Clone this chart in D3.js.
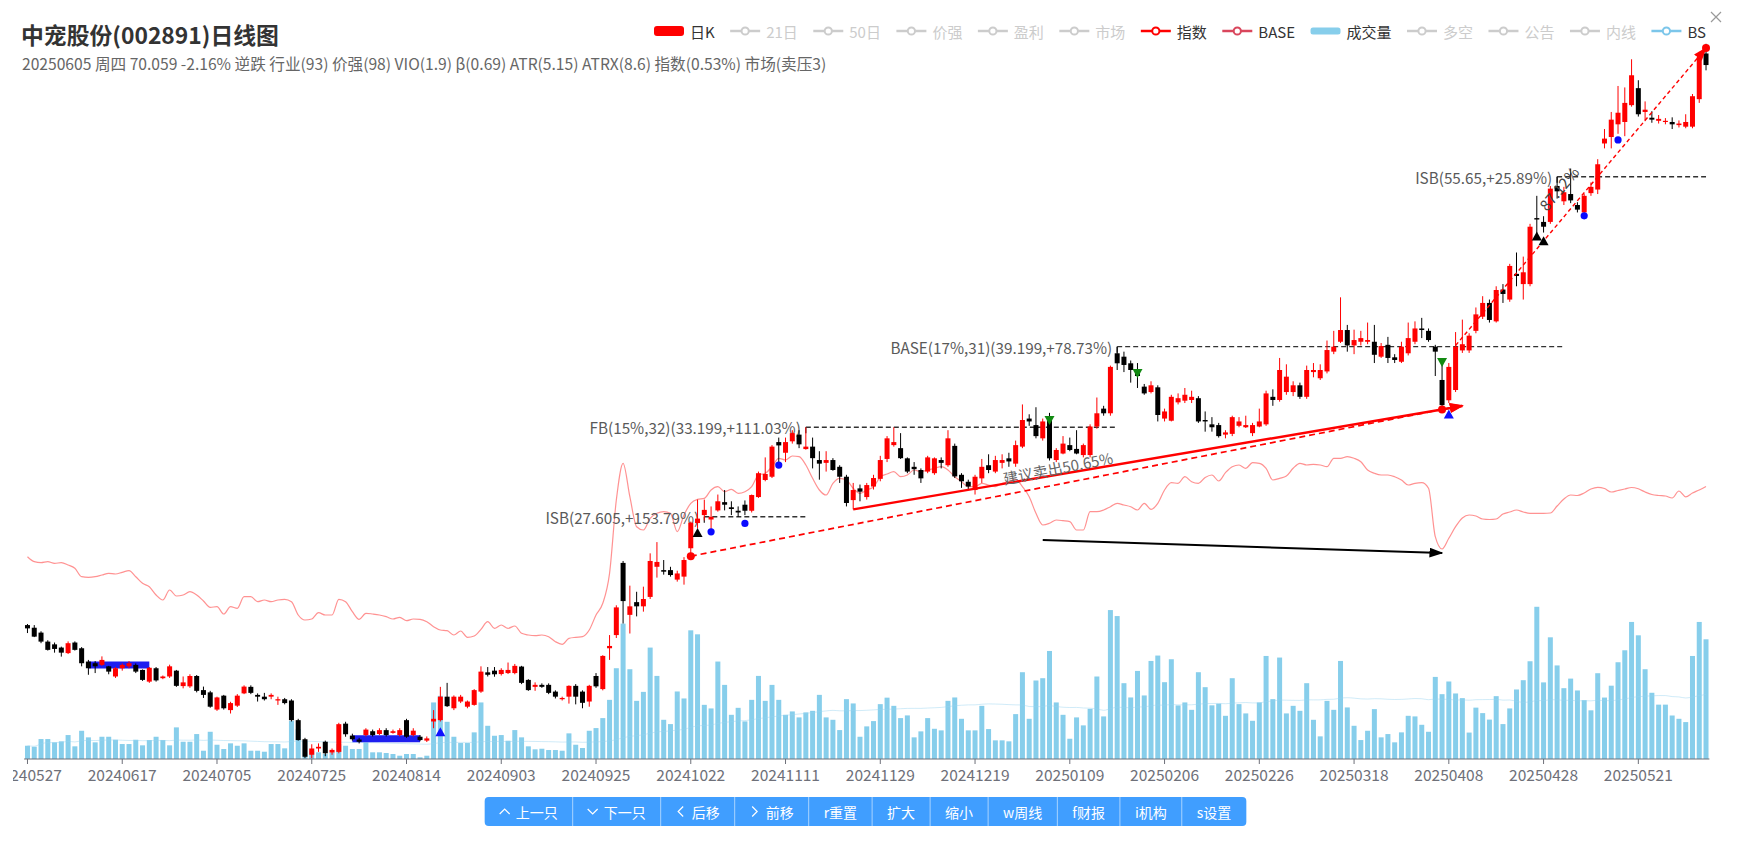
<!DOCTYPE html>
<html><head><meta charset="utf-8">
<script src="https://cdn.jsdelivr.net/npm/d3@7"></script>
<style>
html,body{margin:0;padding:0;background:#fff;overflow:hidden;}
svg{display:block;font-family:"Noto Sans CJK SC","Noto Sans",sans-serif;}
</style></head><body>
<svg id="chart" width="1737" height="849"></svg>
<script>
// ---------------- DATA ----------------
const holidays = ['20240610','20240916','20240917','20241001','20241002','20241003','20241004','20241007',
  '20250101','20250128','20250129','20250130','20250131','20250203','20250204','20250404',
  '20250501','20250502','20250505','20250602'];
const firstDay = '20240527', lastDay = '20250605';
const tickLabels = ['20240527','20240617','20240705','20240725','20240814','20240903','20240925','20241022',
  '20241111','20241129','20241219','20250109','20250206','20250226','20250318','20250408','20250428','20250521'];
const titleText = '中宠股份(002891)日线图';
const subText = '20250605 周四 70.059 -2.16% 逆跌 行业(93) 价强(98) VIO(1.9) β(0.69) ATR(5.15) ATRX(8.6) 指数(0.53%) 市场(卖压3)';
// [open, close, low, high]
const candles = [
[22.08,21.93,21.72,22.13],[21.96,21.56,21.54,22.08],[21.74,21.34,21.27,21.80],[21.34,20.98,20.95,21.40],[21.22,21.02,20.86,21.30],
[21.08,20.86,20.69,21.12],[20.84,21.27,20.80,21.35],[21.30,20.98,20.95,21.35],[21.05,20.41,20.28,21.10],[20.48,20.20,19.93,20.55],
[20.41,20.28,20.00,20.50],[20.34,20.55,20.30,20.70],[20.28,20.06,19.95,20.30],[19.86,20.20,19.80,20.25],[20.20,20.34,20.10,20.40],
[20.28,20.41,20.20,20.50],[20.34,20.06,20.00,20.40],[20.13,19.72,19.68,20.15],[19.65,20.22,19.60,20.25],[20.20,19.70,19.65,20.25],
[19.79,19.86,19.75,19.90],[19.86,20.28,19.80,20.35],[20.10,19.48,19.44,20.13],[19.47,19.62,19.38,19.86],[19.46,19.88,19.40,19.95],
[19.88,19.28,19.22,19.92],[19.31,19.12,19.00,19.45],[19.22,18.66,18.62,19.28],[18.55,19.02,18.50,19.05],[19.09,18.60,18.55,19.12],
[18.53,18.80,18.40,18.85],[18.70,19.09,18.65,19.15],[19.18,19.45,19.15,19.50],[19.44,19.20,19.15,19.50],[19.12,19.05,18.86,19.18],
[19.05,18.95,18.90,19.20],[19.05,19.12,18.95,19.18],[18.90,18.95,18.73,19.05],[18.95,18.80,18.75,19.00],[18.90,18.15,18.10,18.95],
[18.15,17.42,17.40,18.20],[17.45,16.83,16.78,17.50],[16.90,17.12,16.78,17.27],[17.12,17.18,17.00,17.30],[17.36,16.95,16.85,17.40],
[16.98,17.07,16.90,17.12],[17.00,18.00,16.95,18.05],[18.02,17.63,17.54,18.09],[17.58,17.45,17.40,17.65],[17.44,17.36,17.30,17.50],
[17.60,17.80,17.55,17.85],[17.74,17.60,17.55,17.80],[17.64,17.78,17.60,17.85],[17.78,17.60,17.55,17.85],[17.68,17.74,17.65,17.80],
[17.60,17.78,17.55,17.85],[18.15,17.54,17.50,18.20],[17.60,17.76,17.55,17.85],[17.54,17.42,17.38,17.60],[17.40,17.48,17.35,17.55],
[18.10,18.20,17.85,18.53],[18.15,19.05,18.10,19.44],[19.05,18.68,18.65,19.60],[18.60,19.05,18.53,19.10],[18.86,19.05,18.80,19.12],
[18.66,18.86,18.60,18.90],[18.73,19.31,18.70,19.35],[19.25,20.06,19.20,20.28],[20.03,19.93,19.86,20.25],[20.10,19.95,19.85,20.25],
[19.96,20.13,19.90,20.20],[20.00,20.13,19.96,20.44],[20.00,20.30,19.95,20.38],[20.27,19.60,19.55,20.30],[19.72,19.31,19.28,19.75],
[19.44,19.52,19.28,19.62],[19.52,19.44,19.40,19.58],[19.52,19.20,19.15,19.58],[19.25,19.05,18.98,19.30],[18.95,19.00,18.90,19.05],
[19.05,19.48,18.78,19.50],[19.48,19.05,18.75,19.55],[19.25,18.81,18.60,19.30],[18.86,19.48,18.66,19.52],[19.88,19.46,19.40,20.00],
[19.35,20.72,19.30,20.75],[21.05,21.15,20.55,21.63],[21.63,22.90,21.50,23.00],[25.10,23.20,22.15,25.20],[22.55,22.95,21.70,23.95],
[23.15,22.95,22.48,23.65],[22.95,23.30,22.70,23.90],[23.40,25.20,23.30,25.60],[24.90,25.15,24.35,26.20],[24.73,24.65,24.50,25.25],
[24.73,24.48,24.40,24.90],[24.25,24.56,24.15,24.70],[24.40,25.25,24.00,25.40],[25.87,27.27,25.45,27.33],[27.25,27.50,26.95,28.60],
[27.70,28.00,27.40,28.60],[27.45,27.60,26.90,28.20],[27.97,28.50,27.90,28.90],[28.45,28.30,27.97,29.17],[28.15,28.05,27.70,28.50],
[27.95,27.85,27.60,28.20],[28.30,27.95,27.70,28.55],[27.95,28.87,27.85,28.90],[28.75,30.20,28.70,30.30],[29.78,30.15,29.70,31.20],
[29.98,31.90,29.90,32.00],[32.20,31.98,30.80,32.50],[31.50,32.20,30.90,32.50],[32.25,32.80,32.10,33.00],[32.70,32.05,31.80,33.00],
[31.74,31.90,31.70,33.199],[31.90,31.15,30.50,32.50],[31.03,30.80,29.80,31.60],[30.85,31.03,30.30,31.60],[31.03,30.40,30.35,31.15],
[30.60,29.98,29.60,30.70],[29.98,28.40,28.20,30.10],[28.57,29.17,28.03,29.60],[29.27,29.07,28.50,29.50],[28.75,29.47,28.60,29.60],
[29.38,29.90,29.20,30.10],[29.85,31.03,29.70,31.30],[31.10,32.45,30.90,32.60],[32.00,32.20,31.90,33.20],[31.80,31.15,31.10,32.80],
[31.14,30.30,30.20,31.20],[30.60,30.45,30.10,30.90],[30.40,29.88,29.60,30.50],[30.30,31.20,30.20,31.30],[30.20,31.14,30.10,31.20],
[31.03,30.85,30.50,31.20],[30.70,32.45,30.60,33.00],[31.95,30.00,29.90,32.10],[30.10,29.70,29.30,30.20],[29.67,29.38,29.20,29.80],
[29.17,29.98,28.90,30.10],[29.88,30.60,29.60,31.10],[30.70,30.40,30.20,31.40],[30.30,31.03,30.20,31.30],[30.85,31.03,30.50,31.40],
[31.14,30.94,30.60,31.50],[30.80,32.00,30.60,32.30],[31.90,33.70,31.80,34.80],[33.80,33.60,33.30,34.10],[33.35,32.60,32.45,34.60],
[32.45,33.60,32.30,33.80],[33.70,31.14,31.00,34.20],[31.03,31.68,30.90,31.80],[31.45,32.10,31.40,32.60],[32.00,31.68,31.60,32.50],
[31.75,31.45,31.40,33.00],[31.35,32.00,31.20,32.10],[31.35,33.25,31.20,33.40],[33.25,34.17,33.10,35.30],[34.50,34.17,34.00,34.70],
[34.17,37.60,34.00,37.70],[38.67,37.88,37.36,39.199],[38.40,37.75,37.20,38.80],[37.88,37.36,36.40,38.10],[37.40,36.90,36.00,37.90],
[36.10,35.60,35.50,36.30],[35.70,36.20,35.60,36.50],[36.05,34.05,33.60,36.20],[33.80,34.30,33.60,34.50],[33.65,35.35,33.60,35.50],
[34.95,35.25,34.80,35.60],[35.07,35.50,34.90,36.00],[35.12,35.35,34.90,35.80],[35.25,33.60,33.50,35.40],[33.70,33.60,32.90,34.30],
[33.40,33.20,32.90,33.90],[33.35,32.60,32.50,33.50],[32.70,32.85,32.45,33.00],[32.75,33.90,32.60,34.00],[33.30,33.60,33.20,33.90],
[33.20,33.35,33.15,34.00],[32.80,33.35,32.60,33.50],[33.25,33.60,33.20,34.50],[33.40,35.60,33.30,35.80],[35.35,35.12,34.70,35.90],
[35.12,37.36,35.00,38.30],[35.70,36.85,35.50,37.80],[35.70,36.20,35.40,36.50],[36.20,35.35,35.20,36.40],[35.35,37.36,35.20,37.70],
[37.20,37.36,36.80,37.90],[36.73,37.36,36.60,37.80],[37.25,38.93,37.10,39.70],[38.80,39.20,38.60,40.50],[39.60,40.57,39.50,43.40],
[40.57,39.30,38.80,41.00],[39.30,39.74,38.60,40.60],[39.60,39.90,39.30,40.50],[39.60,39.74,39.40,41.20],[39.60,38.55,37.90,41.00],
[38.40,39.25,38.30,39.50],[39.35,38.30,37.90,40.00],[38.35,38.14,37.90,38.60],[38.00,39.20,37.90,39.60],[38.67,39.90,38.50,41.20],
[39.60,40.70,39.40,41.30],[40.70,40.57,39.90,41.60],[40.50,39.74,39.60,40.70],[39.20,38.80,36.90,39.35],[36.60,34.75,34.44,38.00],
[35.10,37.60,34.90,37.90],[35.85,39.20,35.70,40.40],[38.90,39.40,38.70,41.45],[38.90,40.10,38.70,40.30],[40.50,41.90,40.30,42.50],
[41.70,42.90,41.50,43.50],[42.90,41.42,41.20,43.20],[41.30,44.06,41.20,44.40],[44.10,43.70,42.90,44.60],[43.20,46.30,43.00,46.50],
[45.55,45.35,44.40,47.60],[44.60,45.70,43.20,47.20],[44.60,50.20,44.40,50.50],[51.10,50.95,49.50,53.50],[50.70,50.20,49.60,51.30],
[50.70,54.30,50.50,54.60],[54.60,54.00,53.20,55.65],[52.90,53.90,52.50,54.50],[53.70,53.00,52.70,56.60],[52.50,52.00,51.70,52.80],
[51.70,53.50,51.50,53.70],[53.80,54.50,53.50,55.00],[54.20,57.10,53.70,57.70],[59.60,60.20,59.00,61.40],[60.40,62.60,59.00,63.60],
[62.00,63.50,60.80,67.10],[62.30,64.80,60.50,66.90],[64.50,68.60,64.30,70.90],[66.80,63.30,63.00,67.90],[63.60,63.90,62.40,65.00],
[62.85,62.60,62.20,63.70],[62.45,62.70,62.10,63.20],[62.30,62.45,62.00,62.80],[62.30,62.00,61.40,62.90],[61.90,62.10,61.60,62.50],
[61.70,62.30,61.50,63.30],[61.70,65.70,61.50,66.00],[65.30,71.61,64.80,72.00],[71.75,70.06,69.30,73.20]
];
const volumes = [
13.3,12.3,20,20,16.7,17.7,24,12.7,28.3,21.7,
16.7,22.3,22.3,19.3,15,15,19.3,13.7,19,22.3,
19,13.7,31.7,17.3,17.3,25,8.3,27.3,14.3,10,
15.7,13.3,15.7,8.3,8.3,7.3,15,15,10.7,38.3,
30,18.3,8.3,6.7,5,6.7,15,13.3,10,10,
16.7,6.7,6.7,6,5,3.3,5,5,1.7,3.3,
56.7,63.3,37.3,22.3,16,16,26.7,56.7,33.3,23.3,
24,18.3,29,21.7,12.7,9.7,10.3,9,9,8.3,
25.7,14.3,11,28.3,31,41,59.3,91,135.7,90,
58.3,67.3,111.7,83.3,39.3,35,67.7,60.7,129,125,
54.3,50.7,97.7,74.3,44.3,51.3,37.7,59.3,83.3,58.3,
74.3,59.3,44.3,47.7,41.7,46.7,48.3,64.3,41.7,39.3,
29,60,55.7,22.3,32.7,38,55,61.5,53.3,41,
43.7,21.7,27.7,41,30.3,28.7,58.3,61.7,40.3,28.7,
28.7,53.3,30,18.7,18.7,17.7,45,87,40.3,78.7,
81,108.3,56.7,44.3,20.3,41.7,33.7,50.3,82.7,42.7,
149.3,143.3,76,61.7,88.3,63.7,98.3,103.7,77,100,
53.7,56.7,49.3,87,72,53.8,55.5,43.3,81,55,
45.7,38.3,56.7,103.3,60,101.7,45.7,53.3,48.3,76,
39.3,22.7,58.3,49.3,98.3,51.7,33.3,19,28.3,50,
21.7,25,16.7,26.7,43.3,42.7,34.3,27.3,82.3,65,
77.7,65.7,61,26.5,51.5,46,39.5,63,35,50.7,
69.7,79,98,152.6,76.8,122,93.8,71,80.6,68.7,
59,48.8,86,61.6,73.5,97,109,137.4,124,90,
66.4,54.5,54.5,43.6,40.3,37,103.3,137.4,120
];
// 指数 series (own axis units)
const indexLine = [
203.3,198.3,197.3,198.3,196.7,197.3,195,191.7,183.3,182.7,
183.3,185,186.7,186,187.7,189.3,183.3,176.7,173.3,165,
160,170,164,165,168.3,165,159,152.7,153.3,146,
153.3,151.7,163.3,163.3,158.3,160,158.3,160,160.7,158.3,
145,140,141,147.3,145,145,160.7,158.3,148.3,140.7,
146.7,146,145,143.3,141,142.7,139.3,141,140.7,138.3,
133.3,130,129.3,125,129,122.7,124,130.7,138.3,131.7,
135,131.7,134,126.7,125,124.3,125,123.3,118.3,115.7,
121.7,122.7,123.3,130,145,156.7,186.7,260,296.7,263.3,
233.3,230,241.7,246.7,248.3,246.7,228.3,245,256.7,260.7,
261.7,270,273.3,268.3,270.7,266.7,268.3,273.3,285,286.7,
293.3,301.7,300,304,303.3,295,281.7,270,265,276.7,
281.7,280,271.7,266.7,270,273,283,286,288.3,283.3,
285,290,288.3,290,291.7,293.3,290,283.3,278.3,273.3,
273.3,276.7,275,273.3,276.7,278.3,280.7,273.3,263.3,246.7,
235,236.7,240,239.3,238.3,230,230,248.3,248.3,250,
253.3,256.7,255,253.3,250,256.7,250.7,256.7,270,277.3,
276.7,283.3,278.3,276.7,282.5,285,279,287.3,293.3,295,
291.7,297.3,296.7,291.7,280,281.7,284,291.7,296.7,295,
295.7,295,293.3,301.7,301.7,303.3,301.7,298.3,290,286.7,
285,285,283.3,280,275,276.7,277.3,271.7,223.3,211,
221.7,233.3,242,245,244,241,240.5,241,246,248,
250,248,246.6,246.6,246.6,247,254,261,265,264.5,
267,271,272.7,271.5,268,269.5,271,272.5,271.2,268,
265.5,264.5,264,262,269,263.2,267,270,273.6
];
const legendNames = ['日K','21日','50日','价强','盈利','市场','指数','BASE','成交量','多空','公告','内线','BS'];
const legendOn = [true,false,false,false,false,false,true,true,true,false,false,false,true];
const levelLines = [
  {text:'ISB(27.605,+153.79%)', price:27.605, from:'20241024', to:'20241114'},
  {text:'FB(15%,32)(33.199,+111.03%)', price:33.199, from:'20241114', to:'20250120'},
  {text:'BASE(17%,31)(39.199,+78.73%)', price:39.199, from:'20250120', to:'20250506'},
  {text:'ISB(55.65,+25.89%)', price:55.65, from:'20250430', to:'20250605'}
];
const bsBars = [['20240607','20240621',20.34],['20240802','20240816',17.47]];
const trendLines = [
  {from:['20241022',25.45], to:['20250407',34.44], extend:'20250410', label:'建议卖出50.65%'},
  {from:['20241125',28.03], to:['20250407',34.44], extend:'20250410', label:null},
  {from:['20250409',39.3], to:['20250605',72.57], extend:null, label:'87.12%'}
];
const divergenceArrow = [['20250103',220],['20250407',207]];
const redDots = [['20241022',25.45],['20250407',34.44],['20250605',72.57]];
const blueUpTriangles = [['20240821',17.72],['20250408',34.12]];
const blackUpTriangles = [['20241023',26.72],['20250425',49.25],['20250428',48.76]];
const blueDots = [['20241025',26.76],['20241101',27.23],['20241108',30.71],['20250509',51.34],['20250516',60.04]];
const greenDownTriangles = [['20250106',33.66],['20250123',37.1],['20250407',37.95]];
const buttonIcons = ['up','down','left','right',null,null,null,null,null,null,null];
const buttonTexts = ['上一只','下一只','后移','前移','r重置','扩大','缩小','w周线','f财报','i机构','s设置'];

// ---------------- STYLES ----------------
const legendStyle = [
  {type:'bar',color:'#ff0000'},{type:'line',color:'#cccccc'},{type:'line',color:'#cccccc'},{type:'line',color:'#cccccc'},
  {type:'line',color:'#cccccc'},{type:'line',color:'#cccccc'},{type:'line',color:'#ff0000'},{type:'line',color:'#d9465c'},
  {type:'vol',color:'#87ceeb'},{type:'line',color:'#cccccc'},{type:'line',color:'#cccccc'},{type:'line',color:'#cccccc'},
  {type:'line',color:'#7cc6ea'}
];
const trendStyle = [
  {width:1.7, dash:'6,4', labelAt:0.48, labelDy:-10, labelColor:'#666'},
  {width:2.4, dash:null},
  {width:1.4, dash:'4,3', labelAt:0.48, labelDy:-16, labelColor:'#444'}
];

// ---------------- BUILD ----------------
function tradingDays(a,b){
  const hol=new Set(holidays), out=[];
  const p=s=>new Date(Date.UTC(+s.slice(0,4),+s.slice(4,6)-1,+s.slice(6,8)));
  for(let d=p(a); d<=p(b); d=new Date(d.getTime()+86400000)){
    const w=d.getUTCDay(); const s=d.toISOString().slice(0,10).replace(/-/g,'');
    if(w!==0&&w!==6&&!hol.has(s)) out.push(s);
  }
  return out;
}
const dates = tradingDays(firstDay,lastDay);
const n = Math.min(dates.length, candles.length);
const kdata = dates.slice(0,n).map((d,i)=>({d, o:candles[i][0], c:candles[i][1], l:candles[i][2], h:candles[i][3], v:volumes[i], idx:indexLine[i]}));

const svg = d3.select('#chart');
const defs = svg.append('defs');
function mk(id,color,w,h){
  defs.append('marker').attr('id',id).attr('viewBox','0 0 10 10').attr('refX',9).attr('refY',5)
   .attr('markerWidth',w).attr('markerHeight',h).attr('markerUnits','userSpaceOnUse').attr('orient','auto')
   .attr('preserveAspectRatio','none').append('path').attr('d','M0,0L10,5L0,10z').attr('fill',color);
}
mk('arrRed','#ff0000',14,10); mk('arrBlack','#000',14,10);
defs.append('clipPath').attr('id','axclip').append('rect').attr('x',13).attr('y',0).attr('width',1720).attr('height',849);

const x = d3.scaleBand().domain(dates.slice(0,n)).range([24.1,1709.4]).padding(0);
const cx = d => x(d) + x.bandwidth()/2;
const y = d3.scaleLog().domain([16,75]).range([781.3,32.0]);
const yv = d3.scaleLinear().domain([0,160]).range([759,599.4]);
const yi = d3.scaleLinear().domain([0,720]).range([760,40]);

function fitText(sel, target){
  const w = sel.node().getComputedTextLength();
  const fs = parseFloat(sel.attr('font-size'));
  if(w>0) sel.attr('font-size', (fs*target/w).toFixed(2));
  return sel;
}

// title
fitText(svg.append('text').attr('x',21).attr('y',34).attr('dominant-baseline','central')
  .attr('font-size',22).attr('font-weight','bold').attr('fill','#333').text(titleText),258);
fitText(svg.append('text').attr('x',22).attr('y',63).attr('dominant-baseline','central')
  .attr('font-size',13).attr('fill','#666').text(subText),805);

// legend
const lg = svg.append('g');
const ly = 31, lStart = 654, lEnd = 1706;
const lTexts = legendNames.map((nm,i)=>lg.append('text').attr('dominant-baseline','central').attr('font-size',15)
   .attr('fill',legendOn[i]?'#333':'#ccc').attr('y',ly).text(nm));
const lW = lTexts.map(t=>t.node().getComputedTextLength());
const lGap = (lEnd - lStart - d3.sum(lW) - 36*legendNames.length)/(legendNames.length-1);
let lx = lStart;
legendNames.forEach((nm,i)=>{
  const st = legendStyle[i];
  const g = lg.insert('g',':first-child');
  if(st.type==='bar') g.append('rect').attr('x',lx).attr('y',ly-5).attr('width',30).attr('height',10).attr('rx',3).attr('fill',st.color);
  else if(st.type==='vol') g.append('rect').attr('x',lx).attr('y',ly-3.5).attr('width',30).attr('height',7).attr('rx',2.5).attr('fill',st.color);
  else {
    g.append('line').attr('x1',lx).attr('x2',lx+30).attr('y1',ly).attr('y2',ly).attr('stroke',st.color).attr('stroke-width',2.5);
    g.append('circle').attr('cx',lx+15).attr('cy',ly).attr('r',3.6).attr('fill','#fff').attr('stroke',st.color).attr('stroke-width',2);
  }
  lTexts[i].attr('x',lx+36);
  lx += 36 + lW[i] + lGap;
});
svg.append('path').attr('d','M1711,12L1721,22M1721,12L1711,22').attr('stroke','#999').attr('stroke-width',1.2);

// volume
const gv = svg.append('g');
gv.selectAll('rect').data(kdata).join('rect')
  .attr('x',d=>cx(d.d)-2.5).attr('width',5).attr('y',d=>yv(d.v)).attr('height',d=>yv(0)-yv(d.v)).attr('fill','#87ceeb');
const volMA = kdata.map((d,i)=>({d:d.d, v:d3.mean(kdata.slice(Math.max(0,i-59),i+1),e=>e.v)}));
gv.append('path').datum(volMA).attr('fill','none').attr('stroke','rgba(150,210,240,0.45)').attr('stroke-width',1)
  .attr('d',d3.line().x(d=>cx(d.d)).y(d=>yv(d.v)).curve(d3.curveMonotoneX));

// index line
svg.append('path').datum(kdata).attr('fill','none').attr('stroke','#ff6464').attr('stroke-opacity',0.7).attr('stroke-width',1.2)
  .attr('d',d3.line().x(d=>cx(d.d)).y(d=>yi(d.idx)).curve(d3.curveMonotoneX));

// level lines
const gl = svg.append('g');
let lvlFont = 14;
{
  const tmp = gl.append('text').attr('font-size',14).text(levelLines[2].text);
  const w = tmp.node().getComputedTextLength(); lvlFont = 14*222/w; tmp.remove();
}
levelLines.forEach(L=>{
  const x1 = cx(L.from), x2 = cx(L.to), yy = y(L.price);
  gl.append('line').attr('x1',x1).attr('x2',x2).attr('y1',yy).attr('y2',yy).attr('stroke','#333').attr('stroke-width',1.3).attr('stroke-dasharray','5,3');
  gl.append('line').attr('x1',x1).attr('x2',x1).attr('y1',yy).attr('y2',yy+6).attr('stroke','#333').attr('stroke-width',1.3);
  gl.append('text').attr('x',x1-5).attr('y',yy).attr('text-anchor','end').attr('dominant-baseline','central')
    .attr('font-size',lvlFont.toFixed(2)).attr('fill','#595959').text(L.text);
});

// BS bars
bsBars.forEach(b=>{
  svg.append('line').attr('x1',cx(b[0])).attr('x2',cx(b[1])).attr('y1',y(b[2])).attr('y2',y(b[2]))
    .attr('stroke','#1e1ef0').attr('stroke-width',7);
});

// candles
const gc = svg.append('g');
const cg = gc.selectAll('g').data(kdata).join('g');
const col = d => d.c>=d.o ? '#ff0000' : '#000000';
cg.append('line').attr('x1',d=>cx(d.d)).attr('x2',d=>cx(d.d)).attr('y1',d=>y(d.h)).attr('y2',d=>y(d.l)).attr('stroke',col).attr('stroke-width',1);
cg.append('rect').attr('x',d=>cx(d.d)-2.5).attr('width',5)
  .attr('y',d=>y(Math.max(d.o,d.c))).attr('height',d=>Math.max(1.2,Math.abs(y(d.o)-y(d.c)))).attr('fill',col);

// trend lines
const gt = svg.append('g');
const trendGeom = trendLines.map(t=>{
  const p1=[cx(t.from[0]),y(t.from[1])], p2=[cx(t.to[0]),y(t.to[1])];
  let p3=p2;
  if(t.extend){const ex=cx(t.extend); const k=(p2[1]-p1[1])/(p2[0]-p1[0]); p3=[ex,p2[1]+k*(ex-p2[0])];}
  return [p1,p3];
});
trendLines.forEach((t,i)=>{
  const [p1,p3]=trendGeom[i], st=trendStyle[i];
  gt.append('line').attr('x1',p1[0]).attr('y1',p1[1]).attr('x2',p3[0]).attr('y2',p3[1])
    .attr('stroke','#ff0000').attr('stroke-width',st.width).attr('stroke-dasharray',st.dash).attr('marker-end','url(#arrRed)');
});
svg.append('line').attr('x1',cx(divergenceArrow[0][0])).attr('y1',yi(divergenceArrow[0][1]))
  .attr('x2',cx(divergenceArrow[1][0])).attr('y2',yi(divergenceArrow[1][1]))
  .attr('stroke','#000').attr('stroke-width',2).attr('marker-end','url(#arrBlack)');

// markers
const gm = svg.append('g');
const tri=(xx,yy,up)=> up?`M${xx-5},${yy+4.5}L${xx},${yy-4.5}L${xx+5},${yy+4.5}Z`:`M${xx-5},${yy-4.5}L${xx},${yy+4.5}L${xx+5},${yy-4.5}Z`;
blueUpTriangles.forEach(m=>gm.append('path').attr('d',tri(cx(m[0]),y(m[1]),true)).attr('fill','#1010ff'));
blackUpTriangles.forEach(m=>gm.append('path').attr('d',tri(cx(m[0]),y(m[1]),true)).attr('fill','#000'));
greenDownTriangles.forEach(m=>gm.append('path').attr('d',tri(cx(m[0]),y(m[1]),false)).attr('fill','#128a12'));
blueDots.forEach(m=>gm.append('circle').attr('cx',cx(m[0])).attr('cy',y(m[1])).attr('r',3.6).attr('fill','#0a0aff'));
redDots.forEach(m=>gm.append('circle').attr('cx',cx(m[0])).attr('cy',y(m[1])).attr('r',4).attr('fill','#ff0000'));

// rotated trend labels
trendLines.forEach((t,i)=>{
  if(!t.label) return;
  const [p1,p3]=trendGeom[i], st=trendStyle[i];
  const ang=Math.atan2(p3[1]-p1[1],p3[0]-p1[0])*180/Math.PI;
  const px=p1[0]+(p3[0]-p1[0])*st.labelAt, py=p1[1]+(p3[1]-p1[1])*st.labelAt;
  svg.append('text').attr('transform',`translate(${px},${py}) rotate(${ang})`).attr('x',0).attr('y',st.labelDy)
    .attr('text-anchor','middle').attr('font-size',15).attr('fill',st.labelColor).text(t.label);
});

// x axis
const gx = svg.append('g');
gx.append('line').attr('x1',24.1).attr('x2',1709.4).attr('y1',759).attr('y2',759).attr('stroke','#6E7079').attr('stroke-width',1);
const axTicks = tickLabels.filter(t=>x(t)!==undefined);
gx.selectAll('.tk').data(axTicks).join('line').attr('class','tk').attr('x1',d=>cx(d)).attr('x2',d=>cx(d))
  .attr('y1',759).attr('y2',764).attr('stroke','#6E7079');
const axl = gx.append('g').attr('clip-path','url(#axclip)');
let axFont = 15;
{ const tmp=axl.append('text').attr('font-size',15).text('20240617'); axFont=15*69/tmp.node().getComputedTextLength(); tmp.remove(); }
axl.selectAll('text').data(axTicks).join('text').attr('x',d=>cx(d)).attr('y',774).attr('text-anchor','middle')
  .attr('dominant-baseline','central').attr('font-size',axFont.toFixed(2)).attr('fill','#6E7079').text(d=>d);

// buttons
const gb = svg.append('g');
const bY=797, bH=29;
const tmpT = gb.append('text').attr('font-size',14);
const bw = buttonTexts.map((t,i)=>{tmpT.text(t); return tmpT.node().getComputedTextLength() + (buttonIcons[i]?16:0) + 30;});
tmpT.remove();
const total = d3.sum(bw);
let bx = 865.5 - total/2;
gb.append('rect').attr('x',bx).attr('y',bY).attr('width',total).attr('height',bH).attr('rx',4).attr('fill','#409eff');
buttonTexts.forEach((txt,i)=>{
  const w=bw[i], icon=buttonIcons[i];
  if(i>0) gb.append('line').attr('x1',bx).attr('x2',bx).attr('y1',bY).attr('y2',bY+bH).attr('stroke','rgba(255,255,255,0.55)');
  let tx = bx+15; const my = bY+bH/2;
  if(icon){
    const ix=tx+5; let d;
    if(icon==='up') d=`M${ix-5},${my+2.5}L${ix},${my-2.5}L${ix+5},${my+2.5}`;
    if(icon==='down') d=`M${ix-5},${my-2.5}L${ix},${my+2.5}L${ix+5},${my-2.5}`;
    if(icon==='left') d=`M${ix+2.5},${my-5}L${ix-2.5},${my}L${ix+2.5},${my+5}`;
    if(icon==='right') d=`M${ix-2.5},${my-5}L${ix+2.5},${my}L${ix-2.5},${my+5}`;
    gb.append('path').attr('d',d).attr('fill','none').attr('stroke','#fff').attr('stroke-width',1.2);
    tx += 16;
  }
  gb.append('text').attr('x',tx).attr('y',my).attr('dominant-baseline','central').attr('font-size',14).attr('fill','#fff').text(txt);
  bx += w;
});
</script>
</body></html>
